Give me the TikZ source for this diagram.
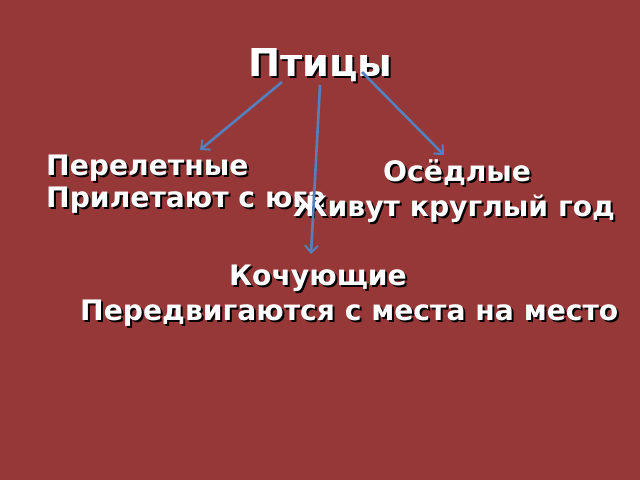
\documentclass[tikz,border=0pt]{standalone}
\usepackage{fontspec}
\setmainfont{DejaVu Sans}
\usetikzlibrary{arrows.meta}
\definecolor{bg}{RGB}{150,56,56}
\definecolor{arr}{RGB}{84,128,190}
\tikzset{
  txt/.style={anchor=base west, inner sep=0pt, text=white, font=\bfseries},
  conn/.style={draw=arr, line width=2.6pt, -{Straight Barb[length=7pt,width=13pt,line width=2pt]}},
}
\newcommand\stxt[4]{%
  \node[txt, text=black, xshift=2pt, yshift=-2pt, font=\bfseries#3] at (#2) {#4};
  \node[txt, font=\bfseries#3] (#1) at (#2) {#4};}
\begin{document}
\begin{tikzpicture}[x=1pt,y=-1pt]
\fill[bg] (0,0) rectangle (640,480);
\useasboundingbox (0,0) rectangle (640,480);
\stxt{title}{248,76}{\fontsize{38.4}{42}\selectfont}{Птицы}
\stxt{per}{46,175}{\fontsize{28.2}{32}\selectfont}{Перелетные}
\stxt{pril}{46,207}{\fontsize{28.2}{32}\selectfont}{Прилетают с юга}
\stxt{osed}{383,181}{\fontsize{28.2}{32}\selectfont}{Осёдлые}
\stxt{zhiv}{293,216}{\fontsize{28.2}{32}\selectfont}{Живут круглый год}
\stxt{koch}{229,285}{\fontsize{28.2}{32}\selectfont}{Кочующие}
\stxt{pered}{80,320}{\fontsize{28.2}{32}\selectfont}{Передвигаются с места на место}
\coordinate (s1) at (282,82);
\coordinate (e1) at (200,150);
\coordinate (s2) at (320,85);
\coordinate (e2) at (311,254);
\coordinate (s3) at (362,72);
\coordinate (e3) at (444,155);
\draw[conn] (s1) -- (e1);
\draw[conn] (s2) -- (e2);
\draw[conn] (s3) -- (e3);
\end{tikzpicture}
\end{document}
